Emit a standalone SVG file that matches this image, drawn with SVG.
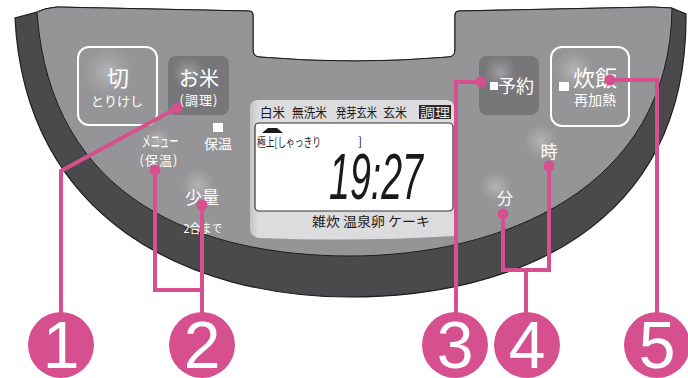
<svg xmlns="http://www.w3.org/2000/svg" width="688" height="378" viewBox="0 0 688 378">
<defs>
<radialGradient id="glow" cx="0.5" cy="0.5" r="0.5">
<stop offset="0" stop-color="#ffffff" stop-opacity="0.3"/>
<stop offset="0.6" stop-color="#ffffff" stop-opacity="0.1"/>
<stop offset="1" stop-color="#ffffff" stop-opacity="0"/>
</radialGradient>
<linearGradient id="panelShade" x1="0" y1="0" x2="1" y2="0">
<stop offset="0" stop-color="#c4c4c6"/>
<stop offset="0.04" stop-color="#dcdcde"/>
<stop offset="1" stop-color="#dcdcde"/>
</linearGradient>
<style>
.jp{font-family:"Noto Sans CJK JP","Noto Sans CJK SC",sans-serif;}
.wt{fill:#ffffff;}
.bk{fill:#1a1a1a;}
.lnk{fill:none;stroke:#d6508f;stroke-width:4;stroke-linejoin:miter;}
.dot{fill:#d6508f;}
.num{fill:#d6508f;}
.numt{font-family:"Liberation Sans",Arial,sans-serif;font-size:66px;fill:#ffffff;text-anchor:middle;}
.btnD{fill:#77777a;}
.btnO{fill:none;stroke:#ffffff;stroke-width:2;}
</style>
</defs>
<rect width="688" height="378" fill="#ffffff"/>
<g id="body">
<path d="M15,18 C25,220 190,297 350,297 C510,297 688,230 686,14 L672,8 L652,7 L459,11 Q455,11 455,15 L455,50 Q455,57 448,57 Q354,65 260,57 Q253,57 253,50 L253,15 Q253,11 249,11 L57,7 Q45,8 37,12 Z" fill="#4a4a4c" stroke="#1e1e1e" stroke-width="1.2"/>
<path d="M37,12 C50,200 200,256 350,256 C500,256 670,190 672,8 L652,7 L459,11 Q455,11 455,15 L455,50 Q455,57 448,57 Q354,65 260,57 Q253,57 253,50 L253,15 Q253,11 249,11 L57,7 Q45,8 37,12 Z" fill="#959597" stroke="#1e1e1e" stroke-width="1"/>
</g>
<g id="btn-kiri">
<rect x="78" y="47" width="79" height="78" rx="11" fill="#959597"/>
<circle cx="108" cy="72" r="26" fill="url(#glow)"/>
<rect x="78" y="47" width="79" height="78" rx="11" class="btnO"/>
<text x="118" y="86" class="jp wt" font-size="22" text-anchor="middle">切</text>
<text x="117" y="106" class="jp wt" font-size="13" text-anchor="middle">とりけし</text>
</g>
<g id="btn-okome">
<rect x="168" y="56" width="61" height="59" rx="8" class="btnD"/>
<circle cx="188" cy="73" r="17" fill="url(#glow)"/>
<text x="199" y="86" class="jp wt" font-size="20" text-anchor="middle">お米</text>
<text x="199" y="105" class="jp wt" font-size="13" text-anchor="middle" letter-spacing="1">(調理)</text>
</g>
<g id="label-hoon">
<rect x="213" y="123" width="10" height="9" fill="#ffffff"/>
<text x="218" y="149" class="jp wt" font-size="14" text-anchor="middle">保温</text>
</g>
<g id="btn-menu">
<circle cx="158" cy="140" r="13" fill="url(#glow)"/>
<text x="160" y="147" class="jp wt" font-size="16" text-anchor="middle" textLength="37" lengthAdjust="spacingAndGlyphs">メニュー</text>
<text x="159" y="165" class="jp wt" font-size="13" text-anchor="middle" letter-spacing="1">(保温)</text>
</g>
<g id="btn-shoryo">
<circle cx="198" cy="185" r="17" fill="url(#glow)"/>
<text x="202" y="204" class="jp wt" font-size="17" text-anchor="middle">少量</text>
<text x="203" y="233" class="jp wt" font-size="12" text-anchor="middle" textLength="39" lengthAdjust="spacingAndGlyphs">2合まで</text>
</g>
<g id="display">
<path d="M258,100 L446,100 Q454,100 454,108 L454,236 Q354,242 260,238 Q250,237 250,228 L250,108 Q250,100 258,100 Z" fill="url(#panelShade)"/>
<text x="260" y="117" class="jp bk" font-size="13" textLength="25" lengthAdjust="spacingAndGlyphs">白米</text>
<text x="292" y="117" class="jp bk" font-size="13" textLength="35" lengthAdjust="spacingAndGlyphs">無洗米</text>
<text x="336" y="117" class="jp bk" font-size="13" textLength="41" lengthAdjust="spacingAndGlyphs">発芽玄米</text>
<text x="383" y="117" class="jp bk" font-size="13" textLength="24" lengthAdjust="spacingAndGlyphs">玄米</text>
<rect x="419" y="105" width="32" height="14" fill="#2a2a2a"/>
<text x="435" y="117" class="jp" font-size="13" fill="#e8e8e8" text-anchor="middle" textLength="30" lengthAdjust="spacingAndGlyphs">調理</text>
<rect x="255" y="123" width="198" height="88" rx="4" fill="#ffffff" stroke="#333333" stroke-width="1.2"/>
<path d="M262,133 L268,128 L277,128 L283,133 Z" fill="#1a1a1a"/>
<text x="257" y="147" class="jp bk" font-size="12" textLength="64" lengthAdjust="spacingAndGlyphs">極上[しゃっきり</text>
<text x="358" y="146" class="jp bk" font-size="12">]</text>
<text x="329" y="199" font-family="'Liberation Sans',Arial,sans-serif" font-size="64" font-style="italic" class="bk" textLength="94" lengthAdjust="spacingAndGlyphs">19:27</text>
<text x="371" y="226" class="jp bk" font-size="13" text-anchor="middle" textLength="118" lengthAdjust="spacingAndGlyphs">雑炊 温泉卵 ケーキ</text>
</g>
<g id="btn-yoyaku">
<rect x="479" y="56" width="60" height="59" rx="8" class="btnD"/>
<circle cx="500" cy="72" r="17" fill="url(#glow)"/>
<rect x="490" y="82" width="8" height="8" fill="#ffffff"/>
<text x="516" y="93" class="jp wt" font-size="18" text-anchor="middle">予約</text>
</g>
<g id="btn-suihan">
<rect x="551" y="47" width="78" height="79" rx="11" fill="#959597"/>
<circle cx="574" cy="70" r="20" fill="url(#glow)"/>
<rect x="551" y="47" width="78" height="79" rx="11" class="btnO"/>
<rect x="559" y="82" width="10" height="9" fill="#ffffff"/>
<text x="595" y="86" class="jp wt" font-size="22" text-anchor="middle">炊飯</text>
<text x="595" y="105" class="jp wt" font-size="14" text-anchor="middle">再加熱</text>
</g>
<g id="btn-ji">
<circle cx="541" cy="141" r="17" fill="url(#glow)"/>
<text x="549" y="158" class="jp wt" font-size="17" text-anchor="middle">時</text>
</g>
<g id="btn-fun">
<circle cx="496" cy="187" r="16" fill="url(#glow)"/>
<text x="505" y="204" class="jp wt" font-size="16" text-anchor="middle">分</text>
</g>
<g id="connectors">
<path class="lnk" d="M177,108 L61,171 L61,330"/>
<path class="lnk" d="M155,170 L155,290 L202,290"/>
<path class="lnk" d="M202,205 L202,330"/>
<path class="lnk" d="M481,82 L456,82 L456,330"/>
<path class="lnk" d="M503,214 L503,270 L549,270 L549,166"/>
<path class="lnk" d="M526,270 L526,330"/>
<path class="lnk" d="M610,80 L657,80 L657,330"/>
<circle class="dot" cx="177" cy="108" r="5.5"/>
<circle class="dot" cx="155" cy="170" r="5.5"/>
<circle class="dot" cx="202" cy="205" r="5.5"/>
<circle class="dot" cx="481" cy="82" r="5.5"/>
<circle class="dot" cx="503" cy="214" r="5.5"/>
<circle class="dot" cx="549" cy="166" r="5.5"/>
<circle class="dot" cx="610" cy="80" r="5.5"/>
</g>
<g id="callout-1"><circle class="num" cx="61" cy="345" r="33"/><text class="numt" x="61" y="368">1</text></g>
<g id="callout-2"><circle class="num" cx="202" cy="345" r="33"/><text class="numt" x="202" y="368">2</text></g>
<g id="callout-3"><circle class="num" cx="455" cy="345" r="33"/><text class="numt" x="455" y="368">3</text></g>
<g id="callout-4"><circle class="num" cx="527" cy="345" r="33"/><text class="numt" x="527" y="368">4</text></g>
<g id="callout-5"><circle class="num" cx="657" cy="345" r="33"/><text class="numt" x="657" y="368">5</text></g>
</svg>
